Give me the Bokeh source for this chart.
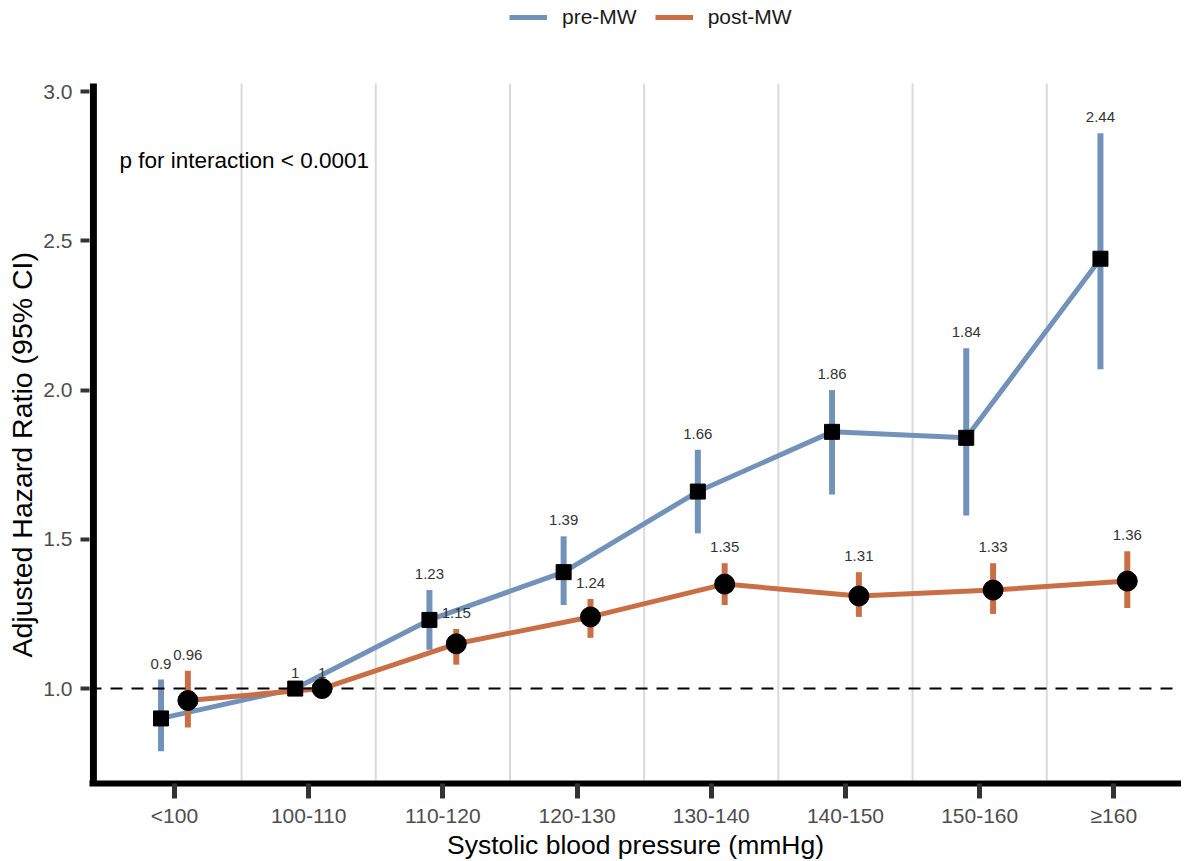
import numpy as np
from bokeh.plotting import figure
from bokeh.models import (ColumnDataSource, Span, Label, Legend, LegendItem,
                          FixedTicker, Range1d, Title)
from bokeh.core.properties import value
from bokeh.embed import file_html
from bokeh.resources import INLINE

# ---------------- data ----------------
categories = ["<100", "100-110", "110-120", "120-130", "130-140", "140-150", "150-160", "\u2265160"]
pre_hr = [0.90, 1.00, 1.23, 1.39, 1.66, 1.86, 1.84, 2.44]
pre_lo = [0.79, 1.00, 1.13, 1.28, 1.52, 1.65, 1.58, 2.07]
pre_hi = [1.03, 1.00, 1.33, 1.51, 1.80, 2.00, 2.14, 2.86]
post_hr = [0.96, 1.00, 1.15, 1.24, 1.35, 1.31, 1.33, 1.36]
post_lo = [0.87, 1.00, 1.08, 1.17, 1.28, 1.24, 1.25, 1.27]
post_hi = [1.06, 1.00, 1.20, 1.30, 1.42, 1.39, 1.42, 1.46]
y_ticks = [1.0, 1.5, 2.0, 2.5, 3.0]
ref_hr = 1.0
annotation = "p for interaction < 0.0001"
series_names = ["pre-MW", "post-MW"]
x_title = "Systolic blood pressure (mmHg)"
y_title = "Adjusted Hazard Ratio (95% CI)"

# ---------------- style / layout ----------------
FONT = "Liberation Sans"
BLUE = "#7292BA"
ORANGE = "#C96F46"
DODGE = 0.1
PANEL_X0 = -0.604            # left edge of the ggplot-like panel (axis line)
PANEL_Y = (0.682, 3.027)     # vertical extent of the panel
Y_TOP = 3.305                # frame extends above the panel to hold the legend

idx = np.arange(len(categories))
boundaries = list(idx[:-1] + 0.5)

def fmt(v):
    return format(v, "g")

pre_src = ColumnDataSource(dict(x=idx - DODGE, hr=pre_hr, lo=pre_lo, hi=pre_hi,
                                lab=[fmt(v) for v in pre_hr]))
post_src = ColumnDataSource(dict(x=idx + DODGE, hr=post_hr, lo=post_lo, hi=post_hi,
                                 lab=[fmt(v) for v in post_hr]))
sep_src = ColumnDataSource(dict(x=boundaries, y0=[PANEL_Y[0]] * len(boundaries),
                                y1=[PANEL_Y[1]] * len(boundaries)))

p = figure(frame_width=1092, frame_height=783,
           x_range=Range1d(-0.633, 7.504), y_range=Range1d(PANEL_Y[0], Y_TOP),
           output_backend="svg", toolbar_location=None,
           min_border_left=89, min_border_top=0, min_border_right=0, min_border_bottom=70,
           background_fill_color="white", border_fill_color="white")
p.outline_line_color = None
p.xgrid.visible = False
p.ygrid.visible = False

# vertical separators
p.segment(x0="x", y0="y0", x1="x", y1="y1", source=sep_src, line_color="#DADADA", line_width=2)

# reference line
p.add_layout(Span(location=ref_hr, dimension="width", line_color="black",
                  line_width=2, line_dash="12 9"))

# left axis line of the panel
p.segment(x0=[PANEL_X0], y0=[PANEL_Y[0]], x1=[PANEL_X0], y1=[PANEL_Y[1]],
          line_color="black", line_width=7)

# lines
l_pre = p.line("x", "hr", source=pre_src, line_color=BLUE, line_width=5)
l_post = p.line("x", "hr", source=post_src, line_color=ORANGE, line_width=5)

# error bars
p.segment(x0="x", y0="lo", x1="x", y1="hi", source=pre_src, line_color=BLUE, line_width=6)
p.segment(x0="x", y0="lo", x1="x", y1="hi", source=post_src, line_color=ORANGE, line_width=6)

# markers
p.scatter("x", "hr", source=pre_src, marker="square", size=15, fill_color="black", line_color="black")
p.scatter("x", "hr", source=post_src, marker="circle", size=20, fill_color="black", line_color="black")

# value labels
for src in (pre_src, post_src):
    p.text(x="x", y="hi", text="lab", source=src, y_offset=-16,
           text_align="center", text_baseline="middle",
           text_font=value(FONT), text_font_size="15px", text_color="#333333")

p.add_layout(Label(x=-0.41, y=2.768, text=annotation, text_align="left",
                   text_baseline="middle", text_font=FONT, text_font_size="22.5px",
                   text_color="black"))

# axes
p.xaxis.ticker = FixedTicker(ticks=list(idx))
p.xaxis.major_label_overrides = {int(i): c for i, c in zip(idx, categories)}
p.yaxis.ticker = FixedTicker(ticks=y_ticks)
p.yaxis.major_label_overrides = {t: f"{t:.1f}" for t in y_ticks}

for ax in (p.xaxis[0], p.yaxis[0]):
    ax.major_tick_line_color = "#333333"
    ax.major_tick_in = 0
    ax.minor_tick_line_color = None
    ax.major_label_text_font = FONT
    ax.major_label_text_font_size = "21px"
    ax.major_label_text_color = "#4D4D4D"
    ax.axis_label_text_font = FONT
    ax.axis_label_text_font_style = "normal"
    ax.axis_label_text_color = "black"

p.xaxis.axis_line_color = "black"
p.xaxis.axis_line_width = 6
p.xaxis.major_tick_line_width = 5
p.xaxis.major_tick_out = 15
p.xaxis.major_label_standoff = 5
p.xaxis.axis_label = x_title
p.xaxis.axis_label_text_font_size = "26.5px"
p.xaxis.axis_label_standoff = 0

p.yaxis.axis_line_color = None
p.yaxis.major_tick_line_width = 4
p.yaxis.major_tick_out = 9
p.yaxis.major_label_standoff = 8
p.yaxis.axis_label_standoff = 0

p.add_layout(Title(text=y_title, align="left", offset=126, standoff=6,
                   text_font=FONT, text_font_size="28.5px", text_font_style="normal",
                   text_color="black"), "left")

legend = Legend(items=[LegendItem(label=series_names[0], renderers=[l_pre]),
                       LegendItem(label=series_names[1], renderers=[l_post])],
                orientation="horizontal", location=(420, 754),
                glyph_width=38, glyph_height=20, label_standoff=15, spacing=18,
                padding=0, margin=0, border_line_color=None, background_fill_alpha=0,
                label_text_font=FONT, label_text_font_size="21px", label_text_color="#1A1A1A")
p.add_layout(legend, "center")

open("out.html", "w").write(file_html(p, INLINE))
